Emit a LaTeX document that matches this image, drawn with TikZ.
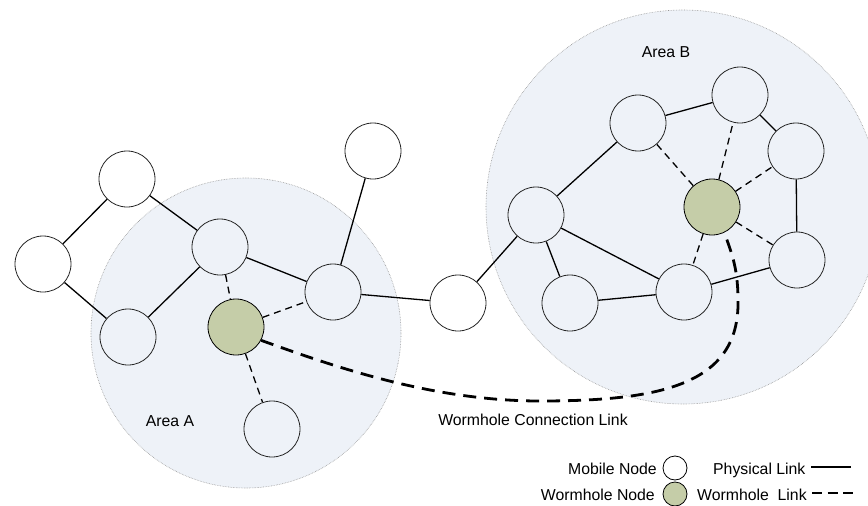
\documentclass[tikz,border=0pt]{standalone}
\usepackage{fontspec}
\setmainfont{Liberation Sans}
\definecolor{areafill}{RGB}{238,242,248}
\definecolor{areaedge}{RGB}{150,150,150}
\definecolor{whgreen}{RGB}{197,205,168}
\begin{document}
\begin{tikzpicture}[x=1pt,y=-1pt,
  every node/.style={font=\fontsize{15.8}{18}\selectfont},
  area/.style={fill=areafill,draw=areaedge,densely dotted,line width=0.6pt},
  mnode/.style={circle,draw=black!85,line width=0.8pt,minimum size=56pt,inner sep=0pt},
  wnode/.style={mnode,fill=whgreen,draw=black},
  phys/.style={draw=black,line width=1.3pt},
  wlink/.style={draw=black,line width=1.3pt,dash pattern=on 7pt off 5pt},
  worm/.style={draw=black,line width=2.8pt,dash pattern=on 13pt off 8pt},
  lbl/.style={inner sep=0pt}]
\useasboundingbox (0,0) rectangle (868,506);
% areas
\path[area] (246,333) circle (155);
\path[area] (683,207) circle (197);
% nodes
\node[mnode] (L1) at (43,264) {};
\node[mnode] (L2) at (127,179) {};
\node[mnode] (L3) at (128,337) {};
\node[mnode] (A1) at (220,247) {};
\node[wnode] (WA) at (236,327) {};
\node[mnode] (A2) at (333,292) {};
\node[mnode] (T) at (373,151) {};
\node[mnode] (A4) at (272,429) {};
\node[mnode] (M) at (458,303) {};
\node[mnode] (B1) at (536,215) {};
\node[mnode] (B2) at (570,303) {};
\node[mnode] (B3) at (684,292) {};
\node[mnode] (B4) at (797,260) {};
\node[mnode] (B5) at (796,151) {};
\node[mnode] (B6) at (740,95) {};
\node[mnode] (B7) at (638,123) {};
\node[wnode] (WB) at (712,207) {};
% physical links
\path[phys] (L1) -- (L2);
\path[phys] (L1) -- (L3);
\path[phys] (L2) -- (A1);
\path[phys] (L3) -- (A1);
\path[phys] (A1) -- (A2);
\path[phys] (A2) -- (T);
\path[phys] (A2) -- (M);
\path[phys] (M) -- (B1);
\path[phys] (B1) -- (B7);
\path[phys] (B1) -- (B2);
\path[phys] (B1) -- (B3);
\path[phys] (B2) -- (B3);
\path[phys] (B3) -- (B4);
\path[phys] (B7) -- (B6);
\path[phys] (B6) -- (B5);
\path[phys] (B5) -- (B4);
% wormhole links
\path[wlink] (A1) -- (WA);
\path[wlink] (WA) -- (A2);
\path[wlink] (WA) -- (A4);
\path[wlink] (WB) -- (B7);
\path[wlink] (WB) -- (B6);
\path[wlink] (WB) -- (B5);
\path[wlink] (WB) -- (B4);
\path[wlink] (WB) -- (B3);
% wormhole connection
\coordinate (c1) at (540,401);
\coordinate (c2) at (738,300);
\path[worm] (WA.-28) .. controls (330,365) and (430,401) .. (c1)
  .. controls (660,401) and (740,385) .. (c2)
  .. controls (738,265) and (730,250) .. (WB.-64);
% labels
\node[lbl] (la) at (170,421) {Area A};
\node[lbl] (lb) at (666,52) {Area B};
\node[lbl] (lw) at (533,420) {Wormhole Connection Link};
% legend
\node[lbl,anchor=base east] (t1) at (657,474) {Mobile Node};
\node[circle,draw=black,fill=white,line width=0.8pt,minimum size=24pt,inner sep=0pt] (g1) at (675,468) {};
\node[lbl,anchor=base west] (t2) at (713,474) {Physical Link};
\coordinate (p1) at (811,467);
\coordinate (p2) at (851,467);
\path[phys] (p1) -- (p2);
\node[lbl,anchor=base east] (t3) at (655,500) {Wormhole Node};
\node[circle,draw=black,fill=whgreen,line width=0.8pt,minimum size=24pt,inner sep=0pt] (g2) at (675,494) {};
\node[lbl,anchor=base west] (t4) at (697,500) {Wormhole~~Link};
\coordinate (q1) at (812,493);
\coordinate (q2) at (853,493);
\path[draw=black,line width=1.3pt,dash pattern=on 10pt off 5.5pt] (q1) -- (q2);
\end{tikzpicture}
\end{document}
